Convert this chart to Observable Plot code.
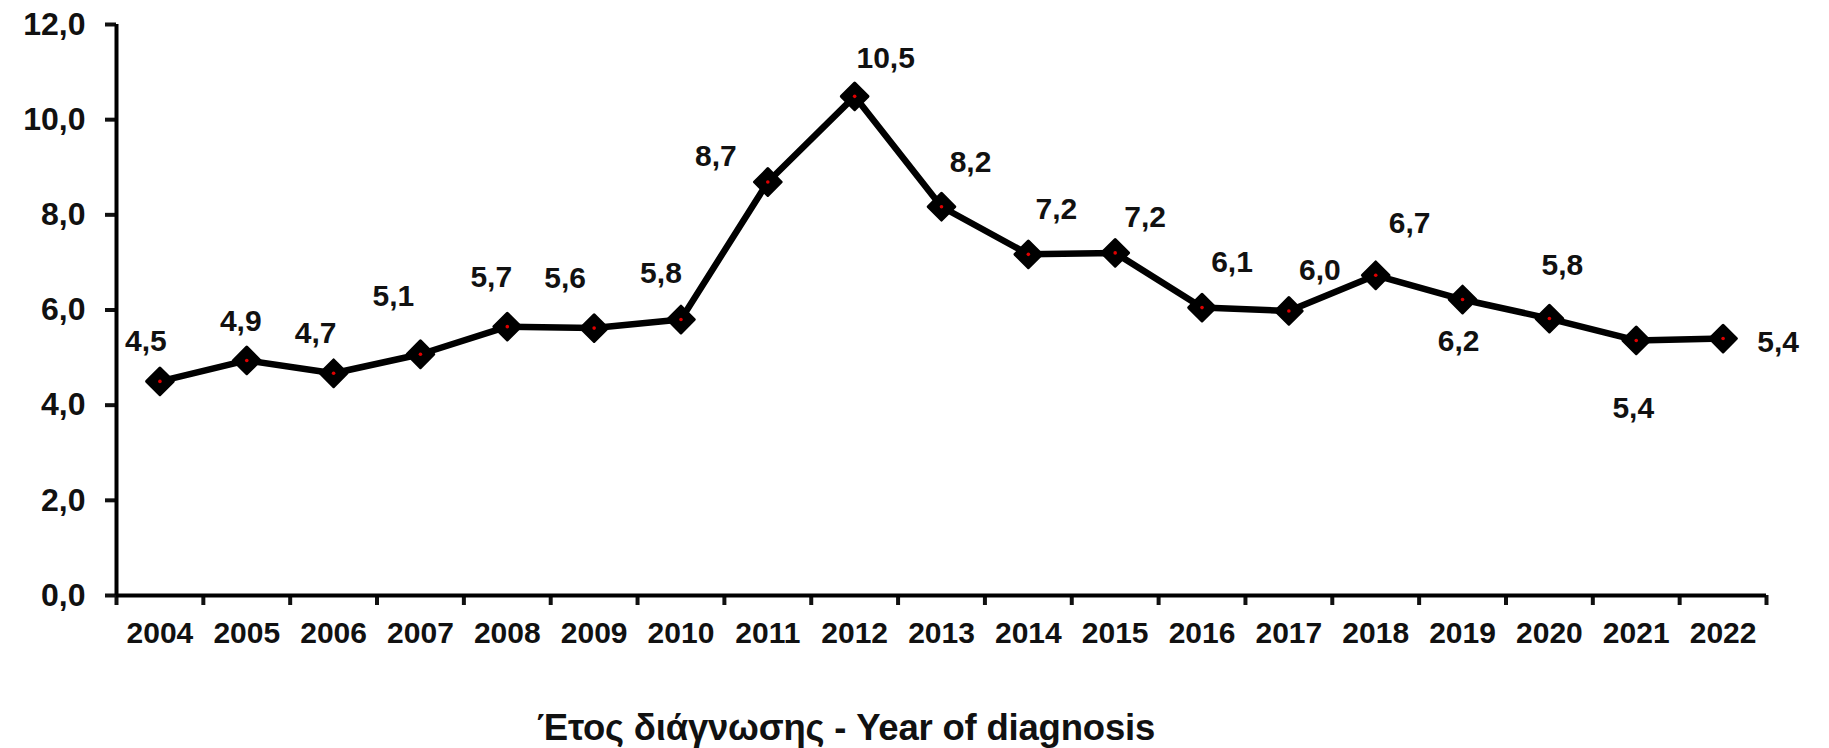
<!DOCTYPE html>
<html>
<head>
<meta charset="utf-8">
<script src="https://cdn.jsdelivr.net/npm/d3@7"></script>
<script src="https://cdn.jsdelivr.net/npm/@observablehq/plot@0.6"></script>
<style>
  body { margin: 0; background: #fff; font-family: "Liberation Sans", Arial, sans-serif; }
  #wrap { position: relative; width: 1829px; height: 748px; overflow: hidden; }
  #title { position: absolute; left: 846px; top: 728px; transform: translate(-50%, -50%);
           font-weight: bold; font-size: 36.5px; letter-spacing: -0.2px; white-space: nowrap; color: #111; }
</style>
</head>
<body>
<div id="wrap"><div id="chart"></div><div id="title">Έτος διάγνωσης - Year of diagnosis</div></div>
<script>
// ---- data ----
const years = [2004, 2005, 2006, 2007, 2008, 2009, 2010, 2011, 2012, 2013, 2014, 2015, 2016, 2017, 2018, 2019, 2020, 2021, 2022];
const values = [4.5, 4.94, 4.67, 5.07, 5.65, 5.62, 5.8, 8.69, 10.49, 8.17, 7.17, 7.2, 6.05, 5.98, 6.73, 6.22, 5.82, 5.36, 5.4];
const valueLabels = ["4,5", "4,9", "4,7", "5,1", "5,7", "5,6", "5,8", "8,7", "10,5", "8,2", "7,2", "7,2", "6,1", "6,0", "6,7", "6,2", "5,8", "5,4", "5,4"];
const yTicks = [0, 2, 4, 6, 8, 10, 12];

// label placement (pixel offsets from each point, as in the reference)
const labelOffsets = [
  [-14, -40], [-6, -39], [-18, -40], [-27, -58], [-16, -49], [-29, -50], [-20, -46],
  [-52, -26], [31, -38], [29, -44], [28, -45], [30, -36], [30, -45], [31, -41],
  [34, -52], [-4, 42], [13, -53], [-3, 68], [55, 4]
];

const data = years.map((yr, i) => ({year: yr, value: values[i], label: valueLabels[i]}));
const boundaries = years.map(y => y - 0.5).concat([years[years.length - 1] + 0.5]);

const labelMarks = data.map((d, i) => Plot.text([d], {
  x: "year", y: "value", text: "label",
  dx: labelOffsets[i][0], dy: labelOffsets[i][1],
  fontSize: 30, fontWeight: "bold", fill: "#111", textAnchor: "middle", lineAnchor: "middle"
}));

const chart = Plot.plot({
  width: 1829,
  height: 680,
  marginLeft: 116,
  marginRight: 63,
  marginTop: 24,
  marginBottom: 85,
  x: {type: "linear", domain: [boundaries[0], boundaries[boundaries.length - 1]]},
  y: {domain: [0, 12]},
  style: {fontFamily: "Liberation Sans, Arial, sans-serif", fontWeight: "bold", fontSize: "30px", color: "#111", background: "white", overflow: "visible"},
  marks: [
    Plot.axisY({ticks: yTicks, tickFormat: d => d.toFixed(1).replace(".", ","), tickSize: 11, tickPadding: 20, strokeWidth: 4, label: null, fontSize: 32}),
    Plot.axisX({ticks: boundaries, tickSize: 10, tickFormat: () => "", strokeWidth: 4, label: null}),
    Plot.axisX({ticks: years, tickSize: 0, tickPadding: 26, tickFormat: d => String(d), label: null, fontSize: 30}),
    Plot.ruleX([boundaries[0]], {strokeWidth: 4, stroke: "black"}),
    Plot.ruleY([0], {strokeWidth: 4, stroke: "black"}),
    Plot.line(data, {x: "year", y: "value", stroke: "black", strokeWidth: 6.5, strokeLinejoin: "round"}),
    Plot.dot(data, {x: "year", y: "value", symbol: "diamond2", r: 12, fill: "black", stroke: "black", strokeWidth: 3, strokeLinejoin: "round"}),
    Plot.dot(data, {x: "year", y: "value", r: 1.8, fill: "#e00000", stroke: "none"}),
    ...labelMarks
  ]
});
document.getElementById("chart").appendChild(chart);
</script>
</body>
</html>
